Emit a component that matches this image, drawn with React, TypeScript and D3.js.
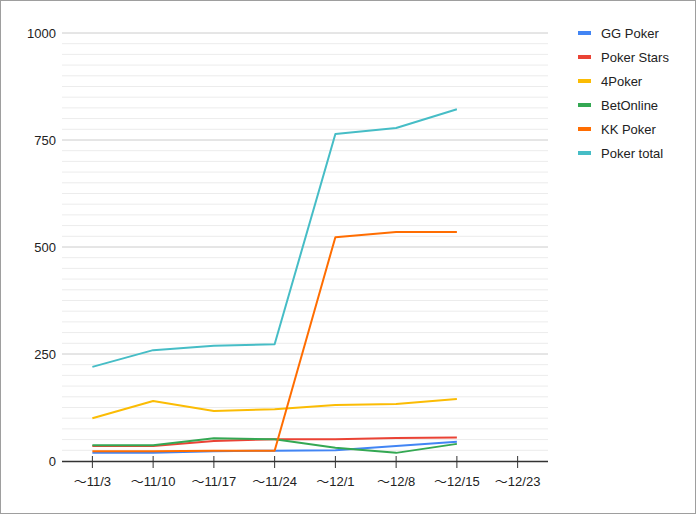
import React from "react";
import * as d3 from "d3";

const categories = ["～11/3", "～11/10", "～11/17", "～11/24", "～12/1", "～12/8", "～12/15", "～12/23"];
const seriesNames = ["GG Poker", "Poker Stars", "4Poker", "BetOnline", "KK Poker", "Poker total"];
const seriesColors = ["#4285F4", "#EA4335", "#FBBC04", "#34A853", "#FF6D01", "#46BDC6"];
const ggPoker = [19, 19, 23, 24, 25, 35, 45];
const pokerStars = [35, 35, 47, 51, 51, 54, 55];
const fourPoker = [100, 140, 117, 121, 131, 133, 145];
const betOnline = [37, 37, 53, 51, 31, 19, 40];
const kkPoker = [23, 23, 24, 24, 523, 535, 535];
const pokerTotal = [220, 259, 269, 273, 764, 778, 822];
const yTicks = [0, 250, 500, 750, 1000];

const W = 696;
const H = 514;
const font = "'Liberation Sans', Arial, 'Noto Sans CJK JP', sans-serif";

export default function App() {
  const x = d3.scalePoint<string>().domain(categories).range([62, 548]).padding(0.5);
  const y = d3.scaleLinear().domain([0, 1000]).range([461, 33]);
  const minor = d3.range(0, 1001, 25).filter((v) => v % 250 !== 0);
  const allSeries = [ggPoker, pokerStars, fourPoker, betOnline, kkPoker, pokerTotal];
  const line = d3
    .line<number>()
    .x((_, i) => x(categories[i]) as number)
    .y((d) => y(d));

  return (
    <svg
      width={W}
      height={H}
      style={{ position: "absolute", left: 0, top: 0, background: "#fff" }}
      fontFamily={font}
    >
      <rect x={0.5} y={0.5} width={W - 1} height={H - 1} fill="#fff" stroke="#9e9e9e" />
      {minor.map((v) => (
        <line key={"m" + v} x1={62} x2={548} y1={y(v)} y2={y(v)} stroke="#ececec" strokeWidth={1} />
      ))}
      {yTicks.map((v) => (
        <g key={"t" + v}>
          {v !== 0 && <line x1={62} x2={548} y1={y(v)} y2={y(v)} stroke="#cccccc" strokeWidth={1} />}
          <text x={56} y={y(v) + 4.5} textAnchor="end" fontSize={13} fill="#222">
            {v}
          </text>
        </g>
      ))}
      {allSeries.map((s, i) => (
        <path
          key={seriesNames[i]}
          d={line(s) || ""}
          fill="none"
          stroke={seriesColors[i]}
          strokeWidth={2}
          strokeLinejoin="round"
        />
      ))}
      <line x1={62} x2={548} y1={461.5} y2={461.5} stroke="#333" strokeWidth={1.5} />
      {categories.map((c) => (
        <g key={c}>
          <line x1={x(c)} x2={x(c)} y1={456} y2={468} stroke="#333" strokeWidth={1} />
          <text x={x(c)} y={486} textAnchor="middle" fontSize={13} fill="#222">
            {c}
          </text>
        </g>
      ))}
      {seriesNames.map((n, i) => (
        <g key={"l" + n}>
          <rect x={578} y={31 + i * 24} width={13} height={4} fill={seriesColors[i]} />
          <text x={601} y={37.5 + i * 24} fontSize={13} fill="#222">
            {n}
          </text>
        </g>
      ))}
    </svg>
  );
}
